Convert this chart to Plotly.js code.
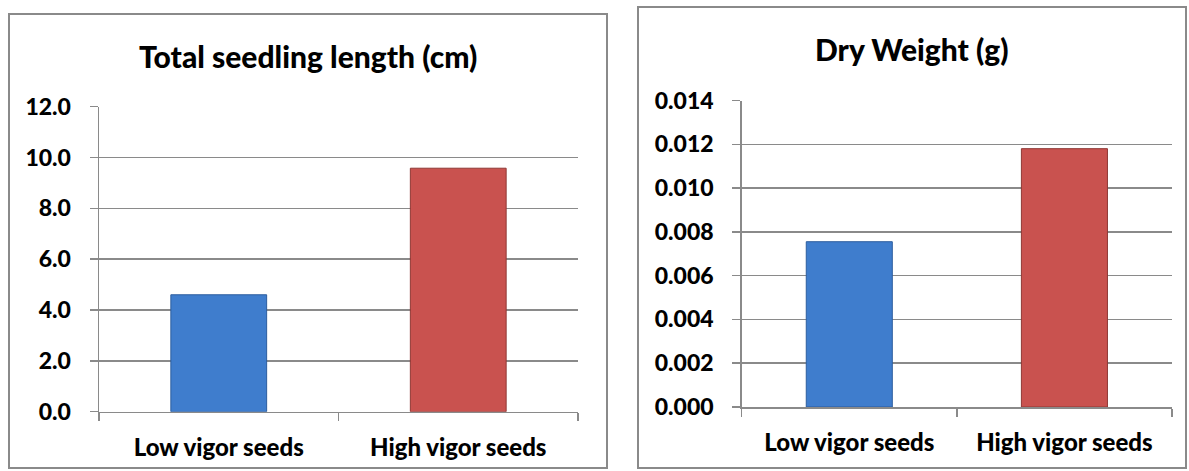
<!DOCTYPE html>
<html>
<head>
<meta charset="utf-8">
<script src="https://cdn.plot.ly/plotly-3.0.1.min.js"></script>
<style>
  html, body { margin: 0; padding: 0; background: #ffffff; }
  #chart { width: 1189px; height: 471px; }
</style>
</head>
<body>
<div id="chart"></div>
<script>
// ---- Data ----
const categories = ["Low vigor seeds", "High vigor seeds"];
const seedlingLength = [4.6, 9.58];        // Total seedling length (cm)
const dryWeight = [0.00755, 0.0118];       // Dry weight (g)
const barColors = ["#3f7dcd", "#c9524f"];
const barLineColors = ["#2c5d9e", "#8f3835"];
const leftTitle = "Total seedling length (cm)";
const rightTitle = "Dry Weight (g)";

// ---- Layout helpers (pixel -> paper) ----
const W = 1189, H = 471;
const px = x => x / W;
const py = y => 1 - y / H;

const FONT = "Lato, 'Open Sans', sans-serif";
const gridCol = "#8a8a8a";

const traces = [
  {
    type: "bar", x: categories, y: seedlingLength,
    xaxis: "x", yaxis: "y",
    marker: { color: barColors, line: { color: barLineColors, width: 1 } },
    hoverinfo: "x+y", showlegend: false
  },
  {
    type: "bar", x: categories, y: dryWeight,
    xaxis: "x2", yaxis: "y2",
    marker: { color: barColors, line: { color: barLineColors, width: 1 } },
    hoverinfo: "x+y", showlegend: false
  }
];

function xAxis(domain, anchor) {
  return {
    domain: domain, anchor: anchor, type: "category",
    showline: true, linecolor: gridCol, linewidth: 1.5,
    ticks: "outside", ticklen: 8, tickcolor: gridCol, tickwidth: 1.5,
    tickson: "boundaries", showgrid: false, zeroline: false,
    ticklabelstandoff: 14,
    tickfont: { family: FONT, size: 24, color: "#000000", weight: 900 },
    fixedrange: true
  };
}
function yAxis(domain, anchor, range, dtick, fmt) {
  return {
    domain: domain, anchor: anchor, range: range, dtick: dtick, tick0: 0,
    tickformat: fmt,
    showline: true, linecolor: gridCol, linewidth: 1.5,
    ticks: "outside", ticklen: 8, tickcolor: gridCol, tickwidth: 1.5,
    showgrid: true, gridcolor: gridCol, gridwidth: 1.5, zeroline: false,
    ticklabelstandoff: 14,
    tickfont: { family: FONT, size: 23, color: "#000000", weight: 900 },
    fixedrange: true
  };
}

const layout = {
  width: W, height: H,
  margin: { l: 0, r: 0, t: 0, b: 0 },
  paper_bgcolor: "#ffffff", plot_bgcolor: "rgba(0,0,0,0)",
  bargap: 0.6,
  showlegend: false,
  xaxis: xAxis([px(99), px(578)], "y"),
  yaxis: yAxis([py(411.7), py(106.7)], "x", [0, 12], 2, ".1f"),
  xaxis2: xAxis([px(741.7), px(1172)], "y2"),
  yaxis2: yAxis([py(407), py(100.5)], "x2", [0, 0.014], 0.002, ".3f"),
  shapes: [
    { type: "rect", xref: "paper", yref: "paper",
      x0: px(9), x1: px(607), y0: py(468), y1: py(14),
      line: { color: gridCol, width: 2 }, fillcolor: "rgba(0,0,0,0)", layer: "below" },
    { type: "rect", xref: "paper", yref: "paper",
      x0: px(638), x1: px(1186), y0: py(468), y1: py(7),
      line: { color: gridCol, width: 2 }, fillcolor: "rgba(0,0,0,0)", layer: "below" }
  ],
  annotations: [
    { text: leftTitle, xref: "paper", yref: "paper",
      x: px(308), y: py(56), xanchor: "center", yanchor: "middle", showarrow: false,
      font: { family: FONT, size: 30, color: "#000000", weight: 900 } },
    { text: rightTitle, xref: "paper", yref: "paper",
      x: px(912), y: py(49), xanchor: "center", yanchor: "middle", showarrow: false,
      font: { family: FONT, size: 30, color: "#000000", weight: 900 } }
  ]
};

Plotly.newPlot("chart", traces, layout, { displayModeBar: false, staticPlot: true });
</script>
</body>
</html>
